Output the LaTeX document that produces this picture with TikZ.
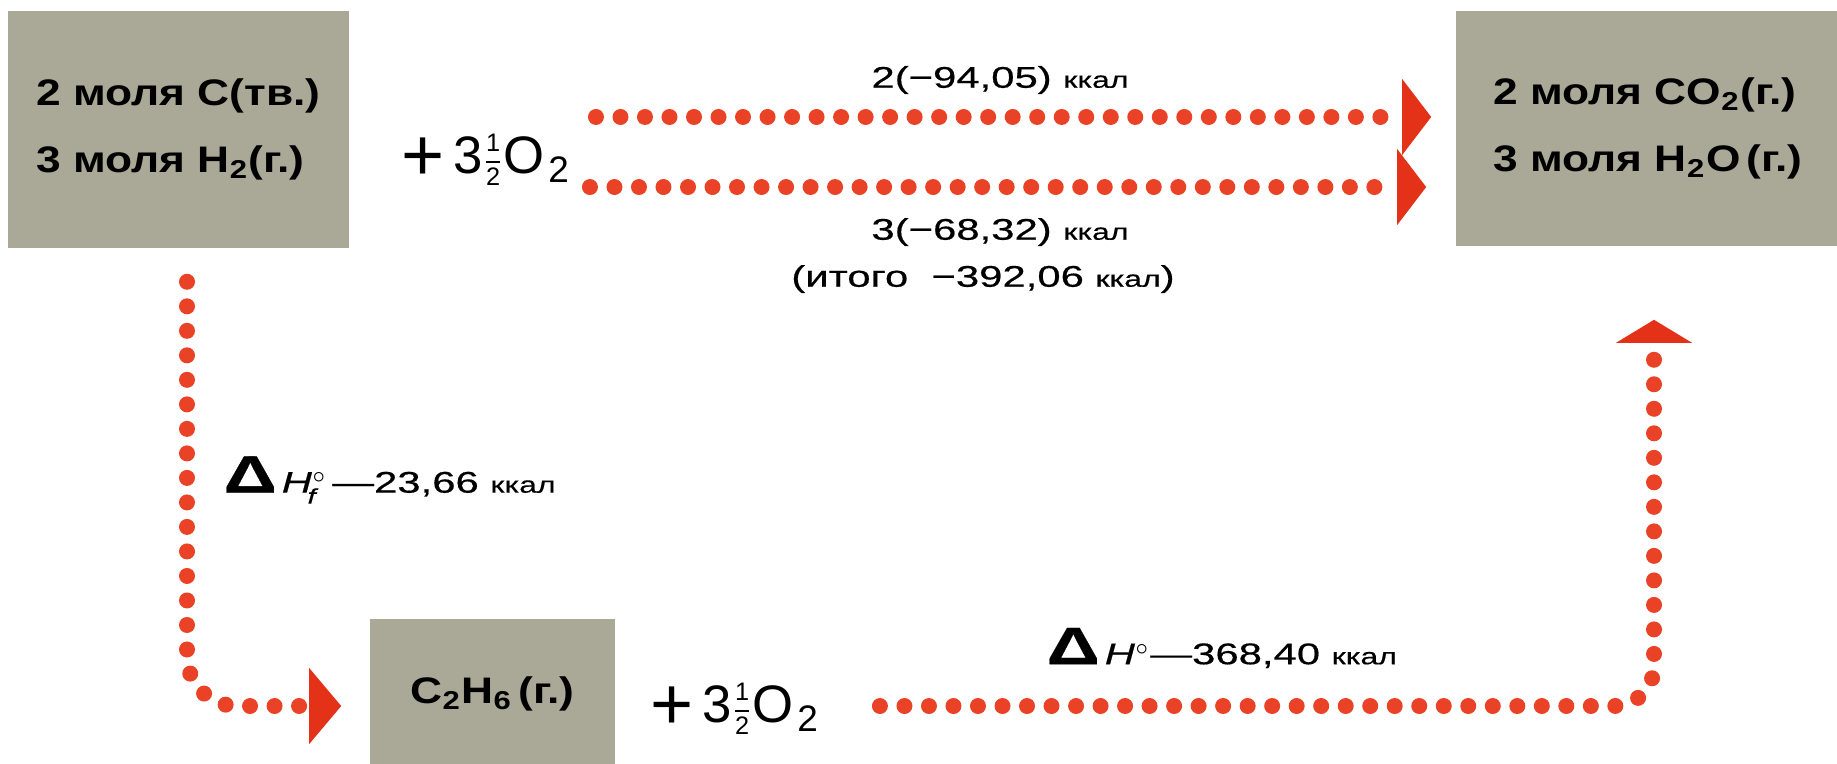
\documentclass[tikz,border=0pt]{standalone}
\usepackage{fontspec}
\setmainfont{Liberation Sans}
\usetikzlibrary{arrows.meta}
\definecolor{boxgray}{RGB}{170,168,150}
\definecolor{dotred}{RGB}{234,66,38}
\definecolor{tipred}{RGB}{228,50,24}
\newcommand{\kkal}{{\fontsize{6.5}{7}\selectfont ккал}}
\newcommand{\halfO}{\kern1pt\raisebox{1.6pt}{\fontsize{7.2}{9.4}\selectfont\setlength{\tabcolsep}{0pt}\begin{tabular}{c}1\\\hline 2\end{tabular}}\kern1pt}
\newcommand{\bigplus}{\raisebox{-2pt}{\fontsize{21}{21}\selectfont +}}
\tikzset{
  substbox/.style={fill=boxgray,inner sep=0pt,align=left,font=\fontsize{10.5}{19}\selectfont\bfseries\addfontfeature{FakeStretch=1.2}},
  plusnode/.style={inner sep=0pt,font=\fontsize{15}{15}\selectfont},
  heatlbl/.style={inner sep=0pt,font=\fontsize{8.5}{10}\selectfont\addfontfeature{FakeStretch=1.4,FakeBold=0.5}},
  dotline/.style={dotred,line width=0.16cm,line cap=round,dash pattern=on 0pt off 0.245cm,rounded corners=0.5cm},
  redtip/.style={-{Triangle[length=#1,width=0.76cm,line width=0pt,color=tipred]}},
  redtip/.default=0.3cm
}
\begin{document}
\begin{tikzpicture}[x=0.01cm,y=-0.01cm]
\useasboundingbox (0,0) rectangle (1837,764);
% substances
\node[substbox,minimum width=3.41cm,minimum height=2.37cm] (react) at (178.5,129.5) {2 моля C(тв.)\\3 моля H\textsubscript{2}(г.)};
\node[substbox,minimum width=3.84cm,minimum height=2.35cm] (prod) at (1648,128.5) {2 моля CO\textsubscript{2}(г.)\\3 моля H\textsubscript{2}O\,(г.)};
\node[substbox,minimum width=2.45cm,minimum height=1.50cm] (ethane) at (492.5,694) {C\textsubscript{2}H\textsubscript{6}\,(г.)};
\node[plusnode] (plusA) at (486,162) {\bigplus\,3\halfO O\kern1pt\textsubscript{2}};
\node[plusnode] (plusB) at (735,711) {\bigplus\,3\halfO O\kern1pt\textsubscript{2}};
% heats
\node[heatlbl] (qCO) at (1000,80) {2(−94,05) \kkal};
\node[heatlbl] (qHO) at (1000,232) {3(−68,32) \kkal};
\node[heatlbl] (qsum) at (983,279) {(итого\ \ −392,06 \kkal)};
\node[heatlbl,anchor=west] (qform) at (223,480) {{\bfseries\fontsize{15}{15}\selectfont Δ}\,\textit{H}$^{\circ}_{\!\mbox{\fontsize{6}{6}\selectfont\itshape f}}$\,—23,66 \kkal};
\node[heatlbl,anchor=west] (qcomb) at (1046,648) {{\bfseries\fontsize{15}{15}\selectfont Δ}\,\textit{H}$^{\circ}$—368,40 \kkal};
% paths
\draw[dotline,redtip=0.29cm] ([xshift=2.46cm,yshift=0.125cm]react.east) -- ([xshift=-0.24cm,yshift=0.115cm]prod.west);
\draw[dotline,redtip=0.29cm] ([xshift=2.40cm,yshift=-0.575cm]react.east) -- ([xshift=-0.29cm,yshift=-0.585cm]prod.west);
\draw[dotline,redtip=0.32cm] ([xshift=0.085cm,yshift=-0.33cm]react.south) |- ([xshift=-0.28cm,yshift=-0.12cm]ethane.west);
\draw[dotline,redtip=0.23cm,rounded corners=0.4cm] ([xshift=2.64cm,yshift=-0.12cm]ethane.east) -| ([xshift=0.06cm,yshift=-0.73cm]prod.south);
\end{tikzpicture}
\end{document}
